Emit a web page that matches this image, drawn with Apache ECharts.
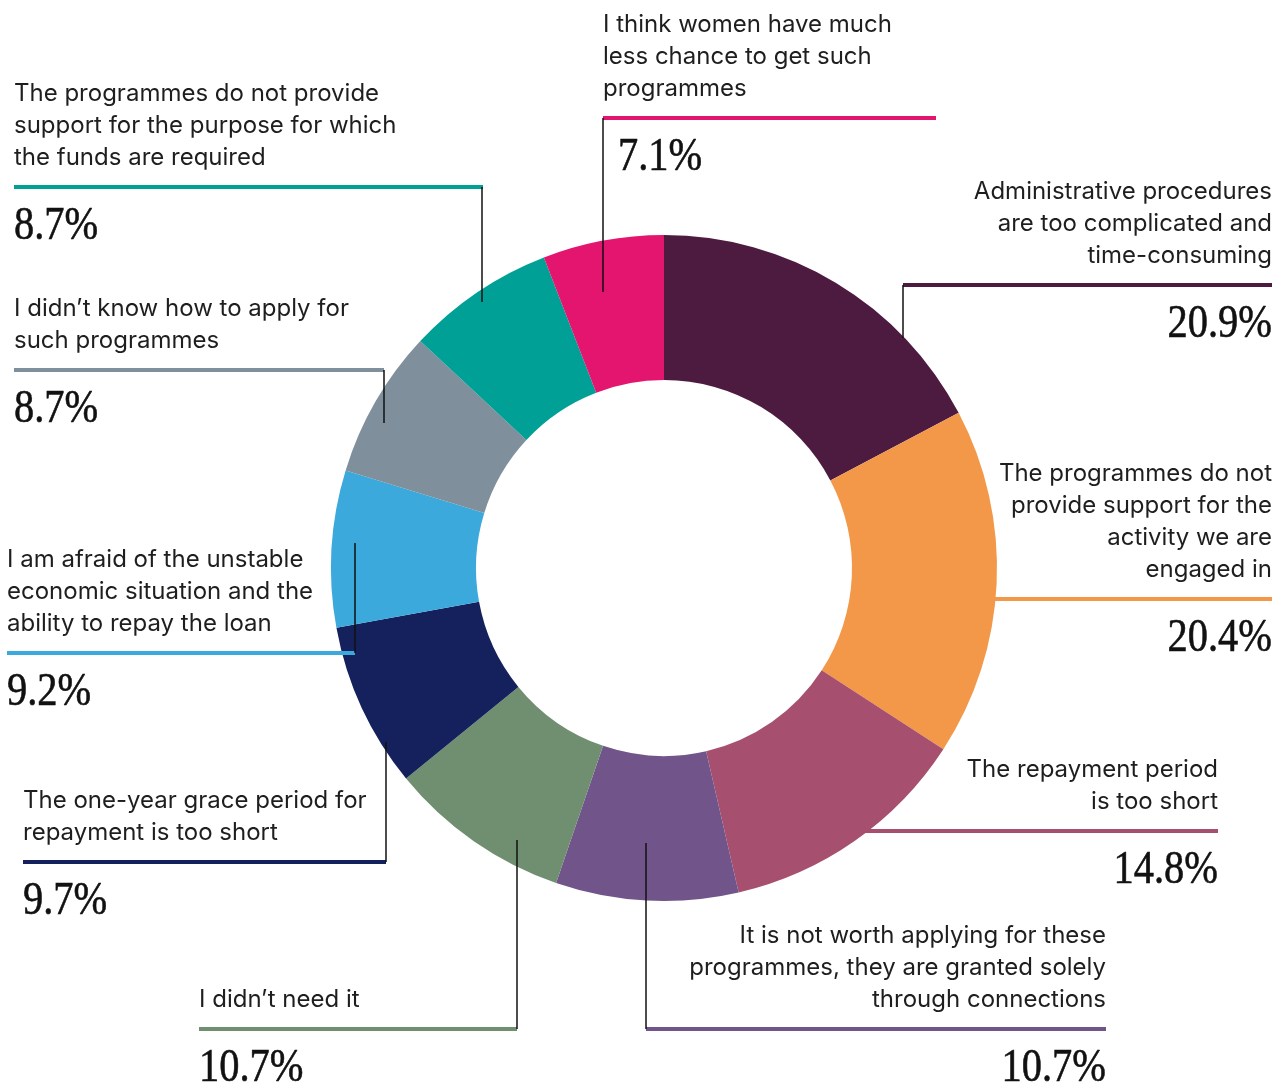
<!DOCTYPE html>
<html>
<head>
<meta charset="utf-8">
<script src="https://cdn.jsdelivr.net/npm/echarts/dist/echarts.min.js"></script>
<style>
html,body{margin:0;padding:0;background:#fff;}
#chart{width:1283px;height:1091px;}
</style>
</head>
<body>
<div id="chart"></div>
<script>
// ---- data ----
var categories = [
  "Administrative procedures\nare too complicated and\ntime-consuming",
  "The programmes do not\nprovide support for the\nactivity we are\nengaged in",
  "The repayment period\nis too short",
  "It is not worth applying for these\nprogrammes, they are granted solely\nthrough connections",
  "I didn\u2019t need it",
  "The one-year grace period for\nrepayment is too short",
  "I am afraid of the unstable\neconomic situation and the\nability to repay the loan",
  "I didn\u2019t know how to apply for\nsuch programmes",
  "The programmes do not provide\nsupport for the purpose for which\nthe funds are required",
  "I think women have much\nless chance to get such\nprogrammes"
];
var values = [20.9, 20.4, 14.8, 10.7, 10.7, 9.7, 9.2, 8.7, 8.7, 7.1];
var colors = ["#4e1b40", "#f29848", "#a64f6e", "#71548a", "#6f8f70",
              "#14215c", "#3ba9dc", "#7f8f9c", "#00a096", "#e4156f"];

// ---- label layout (annotation positions) ----
var layout = [
  {align:"right", tx:1272, ly:285,  lx1:903, lx2:1272, lead:[903,285,338], px:1272},
  {align:"right", tx:1272, ly:599,  lx1:990, lx2:1272, lead:null,          px:1272},
  {align:"right", tx:1218, ly:831,  lx1:862, lx2:1218, lead:null,          px:1218},
  {align:"right", tx:1106, ly:1029, lx1:646, lx2:1106, lead:[646,843,1029],px:1106},
  {align:"left",  tx:199,  ly:1029, lx1:199, lx2:517,  lead:[517,840,1029],px:199},
  {align:"left",  tx:23,   ly:862,  lx1:23,  lx2:386,  lead:[386,742,862], px:23},
  {align:"left",  tx:7,    ly:653,  lx1:7,   lx2:355,  lead:[355,543,653], px:7},
  {align:"left",  tx:14,   ly:370,  lx1:14,  lx2:384,  lead:[384,370,423], px:14},
  {align:"left",  tx:14,   ly:187,  lx1:14,  lx2:483,  lead:[482,187,302], px:14},
  {align:"left",  tx:603,  ly:118,  lx1:603, lx2:936,  lead:[603,118,292], px:618}
];

var chart = echarts.init(document.getElementById('chart'), null, {renderer:'canvas'});

var graphics = [];
layout.forEach(function (L, i) {
  graphics.push({
    type:'text', z:100, silent:true,
    style:{
      text: categories[i], x: L.tx, y: L.ly - 13,
      align: L.align, verticalAlign:'bottom',
      fontFamily:'Inter', fontSize:24, lineHeight:32, fill:'#1e1e1e'
    }
  });
  graphics.push({
    type:'line', z:100, silent:true,
    shape:{x1:L.lx1, y1:L.ly, x2:L.lx2, y2:L.ly},
    style:{stroke: colors[i], lineWidth:4}
  });
  if (L.lead) {
    graphics.push({
      type:'line', z:101, silent:true,
      shape:{x1:L.lead[0], y1:L.lead[1], x2:L.lead[0], y2:L.lead[2]},
      style:{stroke:'#111', lineWidth:1.5}
    });
  }
  graphics.push({
    type:'text', z:100, silent:true,
    x: L.px, y: L.ly + 40, scaleX: 0.86,
    style:{
      text: values[i].toFixed(1) + '%', x:0, y:0,
      align: L.align, verticalAlign:'middle',
      fontFamily:'Liberation Serif', fontSize:47, fill:'#111',
      stroke:'#111', lineWidth:0.6
    }
  });
});

chart.setOption({
  animation:false,
  backgroundColor:'#ffffff',
  color: colors,
  series:[{
    type:'pie',
    center:[664, 568],
    radius:[188, 333],
    startAngle:90,
    clockwise:true,
    avoidLabelOverlap:false,
    label:{show:false},
    labelLine:{show:false},
    emphasis:{disabled:true},
    itemStyle:{borderWidth:0},
    data: categories.map(function (c, i) {
      return {name:c, value:values[i], itemStyle:{color:colors[i]}};
    })
  }],
  graphic: graphics
});
</script>
</body>
</html>
